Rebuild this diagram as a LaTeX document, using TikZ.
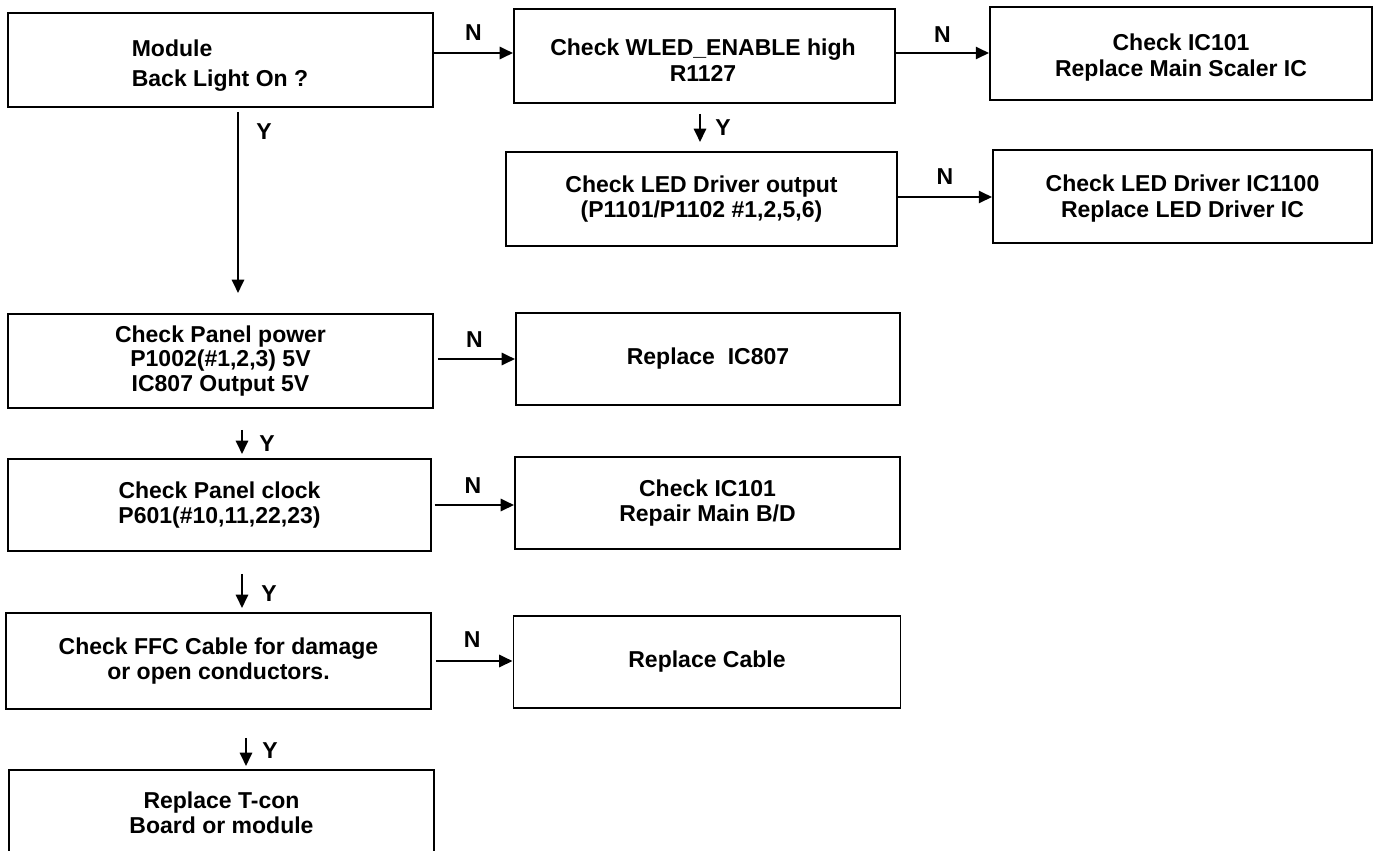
\documentclass[tikz,border=0pt]{standalone}
\usepackage{fontspec}
\setmainfont{Liberation Sans}
\usetikzlibrary{arrows.meta,calc}
\begin{document}
\begin{tikzpicture}[x=0.75pt,y=-0.75pt,
  box/.style={draw, line width=1.4pt, inner sep=0pt, align=center, font=\fontsize{17.25pt}{18.5pt}\selectfont\bfseries},
  wh/.style 2 args={minimum width=#1*0.75pt, minimum height=#2*0.75pt},
  txt/.style={inner sep=0pt, font=\fontsize{17.25pt}{19pt}\selectfont\bfseries},
  lab/.style={inner sep=0pt, font=\fontsize{17.25pt}{18pt}\selectfont\bfseries},
  arr/.style={-{Triangle[length=10pt,width=9pt]}, line width=2pt}
]
\useasboundingbox (0,0) rectangle (1376,850);
\clip (0,0) rectangle (1376,850);

% boxes
\node[box, wh={425}{94}] (b1) at (220.5,60) {};
\node[txt, align=left, font=\fontsize{17.25pt}{22.5pt}\selectfont\bfseries] (t1) at (220,66) {Module\\Back Light On ?};
\node[box, wh={381}{94}] (b2) at (704.5,56) {};
\node[txt, align=center] (t2) at (703,60) {Check WLED\_ENABLE high\\R1127};
\node[box, wh={382}{93}] (b3) at (1181,53.5) {};
\node[txt, align=center] (t3) at (1181,57.5) {Check IC101\\Replace Main Scaler IC};
\node[box, wh={391}{94}] (b4) at (701.5,199) {Check LED Driver output\\(P1101/P1102 \#1,2,5,6)};
\node[box, wh={379}{93}] (b5) at (1182.5,196.5) {};
\node[txt, align=center] (t5) at (1182.5,198.5) {Check LED Driver IC1100\\Replace LED Driver IC};
\node[box, wh={425}{94}] (b6) at (220.5,361) {Check Panel power\\P1002(\#1,2,3) 5V\\IC807 Output 5V};
\node[box, wh={384}{92}] (b7) at (708,359) {Replace\ \ IC807};
\node[box, wh={423}{92}] (b8) at (219.5,505) {Check Panel clock\\P601(\#10,11,22,23)};
\node[box, wh={385}{92}] (b9) at (707.5,503) {Check IC101\\Repair Main B/D};
\node[box, wh={425}{96}] (b10) at (218.5,661) {Check FFC Cable for damage\\or open conductors.};
\node[box, wh={387}{92}] (b11) at (707,662) {Replace Cable};
\node[box, wh={425}{86}] (b12) at (221.5,813) {Replace T-con\\Board or module};

% N connectors
\draw[arr] (b1.east |- 0,53) -- (b2.west |- 0,53) node[lab, midway, yshift=15pt] (n1) {N};
\draw[arr] (b2.east |- 0,53) -- (b3.west |- 0,53) node[lab, midway, yshift=14pt] (n2) {N};
\draw[arr] (b4.east |- 0,197) -- (b5.west |- 0,197) node[lab, midway, yshift=15pt] (n3) {N};
\draw[arr, shorten <=3pt] (b6.east |- 0,359) -- (b7.west |- 0,359) node[lab, midway, yshift=14.5pt] (n4) {N};
\draw[arr, shorten <=2pt] (b8.east |- 0,505) -- (b9.west |- 0,505) node[lab, midway, yshift=14.5pt] (n5) {N};
\draw[arr, shorten <=3pt] (b10.east |- 0,661) -- (b11.west |- 0,661) node[lab, midway, yshift=16pt] (n6) {N};

% Y connectors
\draw[arr, shorten <=3pt, shorten >=15pt] (b1.south -| 238,0) -- (b6.north -| 238,0);
\node[lab] (y1) at (264,132) {Y};
\draw[arr, shorten <=7.5pt, shorten >=6.75pt] (b2.south -| 700,0) -- (b4.north -| 700,0);
\node[lab] (y2) at (723,128) {Y};
\draw[arr, shorten <=15.75pt, shorten >=3pt] (b6.south -| 242,0) -- (b8.north -| 242,0);
\node[lab] (y3) at (267,444) {Y};
\draw[arr, shorten <=16.5pt, shorten >=3pt] (b8.south -| 242,0) -- (b10.north -| 242,0);
\node[lab] (y4) at (269,594) {Y};
\draw[arr, shorten <=21pt, shorten >=2.25pt] (b10.south -| 246,0) -- (b12.north -| 246,0);
\node[lab] (y5) at (270,751) {Y};
\end{tikzpicture}
\end{document}
